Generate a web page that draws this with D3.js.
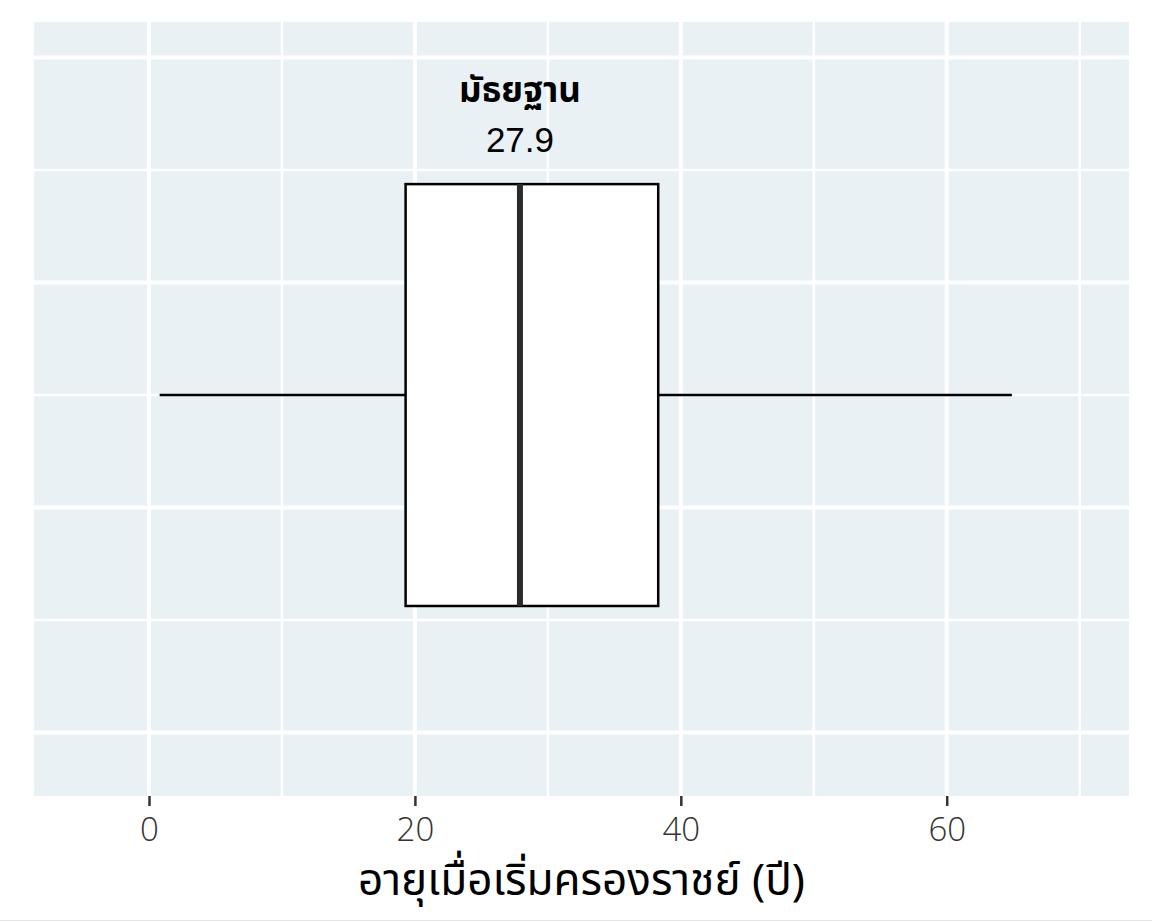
<!DOCTYPE html>
<html>
<head>
<meta charset="utf-8">
<script src="https://cdn.jsdelivr.net/npm/d3@7"></script>
<style>
  body { margin: 0; background: #fff; }
  svg { display: block; }
</style>
</head>
<body>
<svg></svg>
<script>
// five-number summary of reign start age
const statNames = ["min", "q1", "median", "q3", "max"];
const statValues = [0.8, 19.3, 27.9, 38.3, 64.9];

const xMajorTicks = [0, 20, 40, 60];
const xMinorTicks = [10, 30, 50, 70];
const yMajorTicks = [-0.3, -0.1, 0.1, 0.3];
const yMinorTicks = [-0.2, 0, 0.2];

const medianLabel = "มัธยฐาน";
const xTitle = "อายุเมื่อเริ่มครองราชย์ (ปี)";

let width = 1152;
let height = 922;
let panel = { left: 34, right: 1129, top: 22, bottom: 796 };
let boxHalf = 0.1875;

let svg = d3.select("svg").attr("width", width).attr("height", height);

const stat = (name) => statValues[statNames.indexOf(name)];

let xScale = d3.scaleLinear().domain([-8.65, 73.71]).range([panel.left, panel.right]);
let yScale = d3.scaleLinear().domain([-0.3564, 0.3316]).range([panel.bottom, panel.top]);

const drawPanel = () => {
  svg.append("rect")
    .attr("x", panel.left)
    .attr("y", panel.top)
    .attr("width", panel.right - panel.left)
    .attr("height", panel.bottom - panel.top)
    .attr("fill", "#e9f1f5");

  let grid = svg.append("g").attr("stroke", "#fff");

  grid.selectAll(".ymin").data(yMinorTicks).enter().append("line")
    .attr("x1", panel.left).attr("x2", panel.right)
    .attr("y1", (d) => yScale(d)).attr("y2", (d) => yScale(d))
    .attr("stroke-width", 2.5);

  grid.selectAll(".ymaj").data(yMajorTicks).enter().append("line")
    .attr("x1", panel.left).attr("x2", panel.right)
    .attr("y1", (d) => yScale(d)).attr("y2", (d) => yScale(d))
    .attr("stroke-width", 4);

  grid.selectAll(".xmin").data(xMinorTicks).enter().append("line")
    .attr("y1", panel.top).attr("y2", panel.bottom)
    .attr("x1", (d) => xScale(d)).attr("x2", (d) => xScale(d))
    .attr("stroke-width", 2.5);

  grid.selectAll(".xmaj").data(xMajorTicks).enter().append("line")
    .attr("y1", panel.top).attr("y2", panel.bottom)
    .attr("x1", (d) => xScale(d)).attr("x2", (d) => xScale(d))
    .attr("stroke-width", 4);
};

const drawBox = () => {
  let g = svg.append("g");

  // whiskers
  g.append("line")
    .attr("x1", xScale(stat("min"))).attr("x2", xScale(stat("q1")))
    .attr("y1", yScale(0)).attr("y2", yScale(0))
    .attr("stroke", "#000").attr("stroke-width", 2.5);
  g.append("line")
    .attr("x1", xScale(stat("q3"))).attr("x2", xScale(stat("max")))
    .attr("y1", yScale(0)).attr("y2", yScale(0))
    .attr("stroke", "#000").attr("stroke-width", 2.5);

  g.append("rect")
    .attr("x", xScale(stat("q1")))
    .attr("y", yScale(boxHalf))
    .attr("width", xScale(stat("q3")) - xScale(stat("q1")))
    .attr("height", yScale(-boxHalf) - yScale(boxHalf))
    .attr("fill", "#fff")
    .attr("stroke", "#000")
    .attr("stroke-width", 2.5);

  g.append("line")
    .attr("x1", xScale(stat("median"))).attr("x2", xScale(stat("median")))
    .attr("y1", yScale(boxHalf)).attr("y2", yScale(-boxHalf))
    .attr("stroke", "#2b2b2b").attr("stroke-width", 6);

  g.append("text")
    .attr("x", xScale(stat("median")))
    .attr("y", yScale(0.2607))
    .attr("text-anchor", "middle")
    .style("font-family", "'Noto Sans Thai', 'Noto Sans', sans-serif")
    .style("font-size", "35px")
    .style("font-weight", "bold")
    .text(medianLabel);

  g.append("text")
    .attr("x", xScale(stat("median")))
    .attr("y", yScale(0.2163))
    .attr("text-anchor", "middle")
    .style("font-family", "'Liberation Sans', Arial, sans-serif")
    .style("font-size", "35px")
    .text(d3.format(".1f")(stat("median")));
};

const drawAxis = () => {
  let xAxis = d3.axisBottom(xScale)
    .tickValues(xMajorTicks)
    .tickSize(10)
    .tickPadding(12)
    .tickFormat(d3.format("d"));

  let ax = svg.append("g")
    .attr("id", "x-axis")
    .attr("transform", `translate(0, ${panel.bottom})`)
    .call(xAxis);

  ax.select(".domain").remove();
  ax.selectAll(".tick line").attr("stroke", "#333").attr("stroke-width", 2.5);
  ax.selectAll(".tick text")
    .attr("fill", "#333")
    .style("font-family", "'Open Sans', sans-serif")
    .style("font-weight", "300")
    .style("font-size", "33px");

  svg.append("text")
    .attr("x", (panel.left + panel.right) / 2)
    .attr("y", 895)
    .attr("text-anchor", "middle")
    .style("font-family", "'Noto Sans Thai', 'Noto Sans', sans-serif")
    .style("font-size", "44px")
    .text(xTitle);

  svg.append("line")
    .attr("x1", 0).attr("x2", width)
    .attr("y1", 920.5).attr("y2", 920.5)
    .attr("stroke", "#e6e6e6").attr("stroke-width", 1);
};

drawPanel();
drawBox();
drawAxis();
</script>
</body>
</html>
